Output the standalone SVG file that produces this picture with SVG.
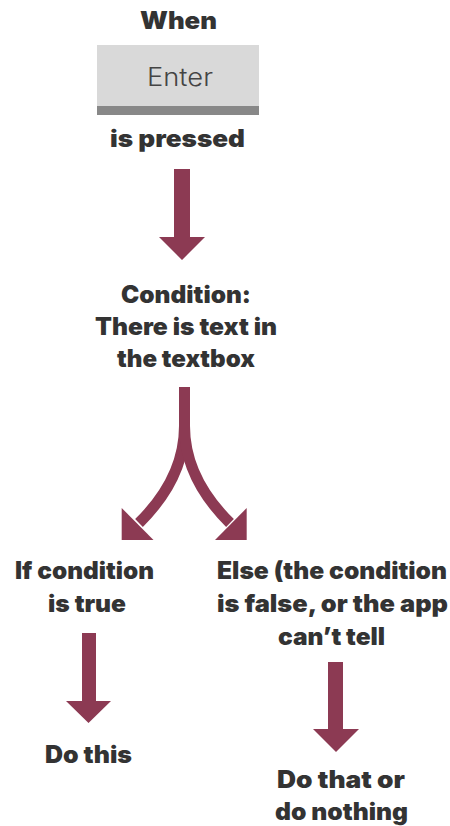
<svg xmlns="http://www.w3.org/2000/svg" width="450" height="826" viewBox="0 0 450 826">
  <style>
    .t { font-family: Inter, "Liberation Sans", sans-serif; font-weight: 900; font-size: 24px; fill: #333333; text-anchor: middle; }
    .key { font-family: Inter, "Liberation Sans", sans-serif; font-weight: 300; font-size: 25px; fill: #444444; text-anchor: middle; }
    .arr { fill: #8c3a53; }
    .curve { fill: none; stroke: #8c3a53; stroke-width: 11; }
  </style>
  <rect width="450" height="826" fill="#ffffff"/>

  <g id="trigger">
    <text class="t" x="178.5" y="29" textLength="77" lengthAdjust="spacingAndGlyphs">When</text>
    <rect x="97" y="45" width="162" height="61" fill="#d9d9d9"/>
    <rect x="97" y="106" width="162" height="9" fill="#888888"/>
    <text class="key" x="180" y="86" textLength="66" lengthAdjust="spacingAndGlyphs">Enter</text>
    <text class="t" x="177.5" y="147" textLength="135" lengthAdjust="spacingAndGlyphs">is pressed</text>
  </g>

  <g id="condition">
    <text class="t" x="186" y="303" textLength="130" lengthAdjust="spacingAndGlyphs">Condition:</text>
    <text class="t" x="186" y="335" textLength="182" lengthAdjust="spacingAndGlyphs">There is text in</text>
    <text class="t" x="186" y="367" textLength="138" lengthAdjust="spacingAndGlyphs">the textbox</text>
  </g>

  <g id="if-true">
    <text class="t" x="84.5" y="579" textLength="139" lengthAdjust="spacingAndGlyphs">If condition</text>
    <text class="t" x="87" y="612" textLength="78" lengthAdjust="spacingAndGlyphs">is true</text>
  </g>

  <g id="else">
    <text class="t" x="332" y="579" textLength="230" lengthAdjust="spacingAndGlyphs">Else (the condition</text>
    <text class="t" x="332.5" y="612" textLength="231" lengthAdjust="spacingAndGlyphs">is false, or the app</text>
    <text class="t" x="331.5" y="645" textLength="107" lengthAdjust="spacingAndGlyphs">can’t tell</text>
  </g>

  <g id="do-this">
    <text class="t" x="88.5" y="763" textLength="87" lengthAdjust="spacingAndGlyphs">Do this</text>
  </g>

  <g id="do-that">
    <text class="t" x="341" y="788" textLength="128" lengthAdjust="spacingAndGlyphs">Do that or</text>
    <text class="t" x="341.5" y="820" textLength="133" lengthAdjust="spacingAndGlyphs">do nothing</text>
  </g>

  <g id="connectors">
    <polygon class="arr" points="174,169 190,169 190,237 205,237 182,260 159,237 174,237"/>
    <path class="curve" d="M184.5,387 L184.5,426 Q184.5,478 139,523"/>
    <path class="curve" d="M184.5,387 L184.5,426 Q184.5,478 230,523"/>
    <polygon class="arr" points="121.7,508 121.7,540 153.5,540"/>
    <polygon class="arr" points="246.7,508 246.7,540 215,540"/>
    <polygon class="arr" points="82,633 96,633 96,701 111,701 88.5,723 66,701 82,701"/>
    <polygon class="arr" points="328,662 343,662 343,729 359,729 336,752 313,729 328,729"/>
  </g>
</svg>
